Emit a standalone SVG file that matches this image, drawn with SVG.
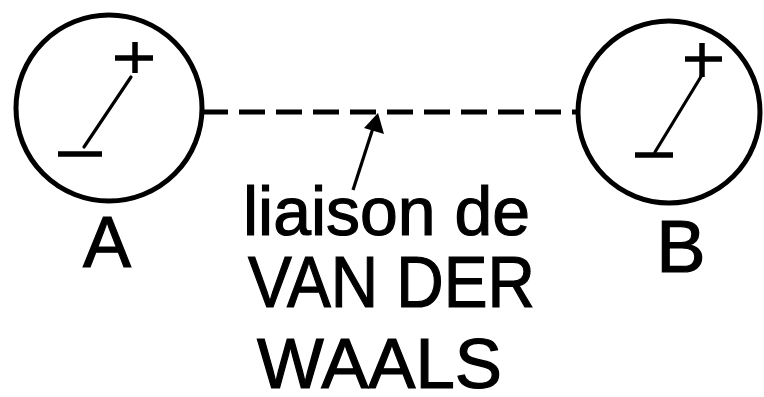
<svg xmlns="http://www.w3.org/2000/svg" width="764" height="397" viewBox="0 0 764 397">
<style>
.ring{fill:none;stroke:#000;stroke-width:5}
.dip{stroke:#000;stroke-width:3.2;stroke-linecap:round}
.sign{stroke:#000;stroke-width:5.5;stroke-linecap:butt}
.lbl{font-family:"Liberation Sans",Arial,sans-serif;fill:#000;stroke:#000;stroke-width:1.2}
</style>
<rect width="764" height="397" fill="#fff"/>
<g id="connectors">
<line x1="202" y1="112" x2="578" y2="112" stroke="#000" stroke-width="5" stroke-dasharray="26 11"/>
<line x1="353" y1="190" x2="373" y2="128" stroke="#000" stroke-width="3.2"/>
<path d="M378,113 L384,134 L364,128 z" fill="#000"/>
</g>
<g id="nodeA">
<circle class="ring" cx="109" cy="108" r="93"/>
<line class="sign" x1="115" y1="58" x2="153" y2="58"/>
<line class="sign" x1="135" y1="42" x2="135" y2="73"/>
<line class="dip" x1="131" y1="77" x2="84" y2="147"/>
<line class="sign" x1="58" y1="154" x2="102" y2="154"/>
<text class="lbl" x="107" y="267" font-size="72" text-anchor="middle">A</text>
</g>
<g id="nodeB">
<circle class="ring" cx="669" cy="112" r="91"/>
<line class="sign" x1="685" y1="59" x2="722" y2="59"/>
<line class="sign" x1="702" y1="43" x2="702" y2="77"/>
<line class="dip" x1="702" y1="75" x2="655" y2="152"/>
<line class="sign" x1="635" y1="155" x2="673" y2="155"/>
<text class="lbl" x="681" y="272" font-size="74" text-anchor="middle">B</text>
</g>
<g id="label">
<text class="lbl" x="243" y="235" font-size="69" textLength="287" lengthAdjust="spacingAndGlyphs">liaison de</text>
<text class="lbl" x="248" y="307" font-size="72" textLength="287" lengthAdjust="spacingAndGlyphs">VAN DER</text>
<text class="lbl" x="257" y="388" font-size="71" textLength="245" lengthAdjust="spacingAndGlyphs">WAALS</text>
</g>
</svg>
